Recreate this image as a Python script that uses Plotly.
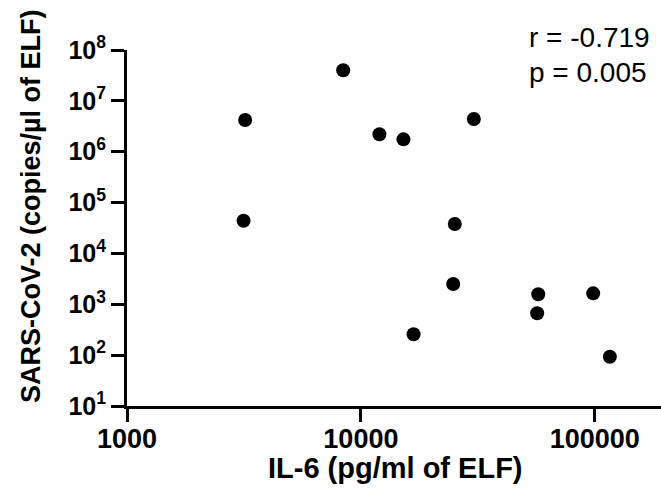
"""
IL-6 vs SARS-CoV-2 viral load in ELF (log-log scatter)
"""

import plotly.graph_objects as go

# IL-6, pg/ml of ELF
il6 = [8400, 3200, 3150, 12000, 15200, 30400, 25200, 24800, 16800, 57300, 56700, 98400, 116000]
# SARS-CoV-2, copies/µl of ELF
viral_load = [4.0e7, 4.2e6, 4.4e4, 2.2e6, 1.75e6, 4.4e6, 3.8e4, 2500, 257, 1570, 665, 1640, 93]

x_ticks = [1000, 10000, 100000]
x_ticktext = ["1000", "10000", "100000"]
y_ticks = [10**k for k in range(1, 9)]
y_ticktext = ["10<sup>%d</sup>" % k for k in range(1, 9)]

x_title = "IL-6 (pg/ml of ELF)"
y_title = "SARS-CoV-2 (copies/µl of ELF)"
stats_lines = ["r = -0.719", "p = 0.005"]

FONT = "Liberation Sans, Arial, sans-serif"

# plot area in pixels
L, T, W, H = 127, 50, 534, 356


def px_x(px):
    return (px - L) / W


def px_y(py):
    return (T + H - py) / H


fig = go.Figure()
fig.add_trace(go.Scatter(
    x=il6,
    y=viral_load,
    mode="markers",
    marker=dict(size=14, color="black"),
    showlegend=False,
))

fig.update_xaxes(
    type="log",
    range=[3, 5.283],
    tickvals=x_ticks,
    ticktext=x_ticktext,
    tickfont=dict(family=FONT, size=27, color="black", weight="bold"),
    ticks="outside", ticklen=13, tickwidth=3, tickcolor="black",
    ticklabelstandoff=-6,
    showline=True, linewidth=3, linecolor="black",
    showgrid=False, zeroline=False, automargin=False,
)
fig.update_yaxes(
    type="log",
    range=[1, 8],
    tickvals=y_ticks,
    ticktext=y_ticktext,
    tickfont=dict(family=FONT, size=25, color="black", weight="bold"),
    ticks="outside", ticklen=13, tickwidth=3, tickcolor="black",
    showline=True, linewidth=3, linecolor="black",
    showgrid=False, zeroline=False, automargin=False,
)

# axis titles
fig.add_annotation(
    text="<b>%s</b>" % x_title,
    xref="paper", yref="paper", x=px_x(395), y=px_y(468),
    xanchor="center", yanchor="middle", showarrow=False,
    font=dict(family=FONT, size=29, color="black"),
)
fig.add_annotation(
    text="<b>%s</b>" % y_title,
    xref="paper", yref="paper", x=px_x(31), y=px_y(206),
    xanchor="center", yanchor="middle", showarrow=False, textangle=-90,
    font=dict(family=FONT, size=27, color="black"),
)

# correlation stats
for line, py in zip(stats_lines, [38, 72]):
    fig.add_annotation(
        text=line,
        xref="paper", yref="paper", x=px_x(527), y=px_y(py),
        xanchor="left", yanchor="middle", showarrow=False,
        font=dict(family=FONT, size=28, color="black"),
    )

fig.update_layout(
    width=661, height=503,
    margin=dict(l=L, r=661 - L - W, t=T, b=503 - T - H),
    plot_bgcolor="white", paper_bgcolor="white",
)

fig.write_html(
    "out.html",
    config={"displayModeBar": False},
    post_script="document.body.style.margin='0';",
)
